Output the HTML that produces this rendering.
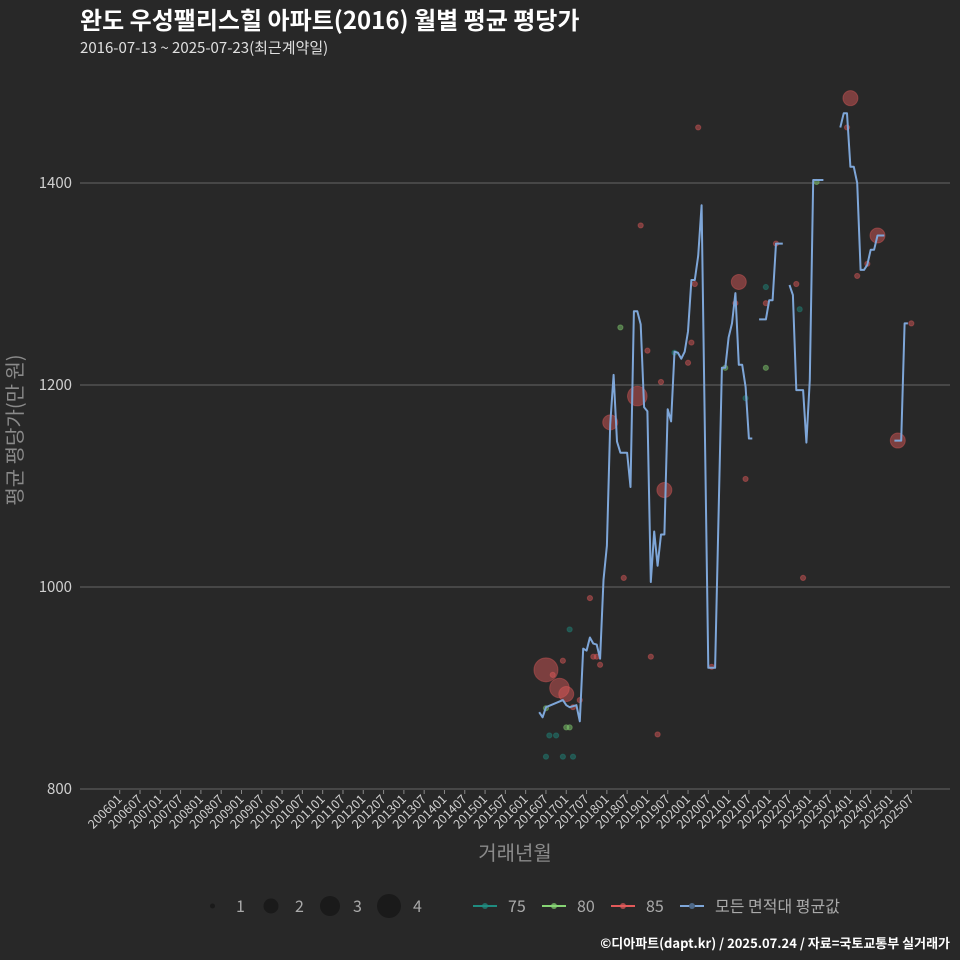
<!DOCTYPE html>
<html><head><meta charset="utf-8">
<style>
html,body{margin:0;padding:0;background:#282828;}
svg{display:block;font-family:"Noto Sans CJK KR","Liberation Sans",sans-serif;}
</style></head>
<body>
<svg id="chart" width="960" height="960" viewBox="0 0 960 960" xmlns="http://www.w3.org/2000/svg">
<rect x="0" y="0" width="960" height="960" fill="#282828"/>
<text x="80" y="29" fill="#ffffff" font-size="24" font-weight="bold">완도 우성팰리스힐 아파트(2016) 월별 평균 평당가</text>
<text x="80" y="53" fill="#e0e0e0" font-size="15">2016-07-13 ~ 2025-07-23(최근계약일)</text>
<g id="grid"></g>
<g id="yticks"></g>
<g id="xticks"></g>
<g id="points"></g>
<g id="line"></g>
<text x="22" y="430" fill="#8a8a8a" font-size="20" text-anchor="middle" transform="rotate(-90 22 430)">평균 평당가(만 원)</text>
<text x="515" y="860" fill="#8a8a8a" font-size="20" text-anchor="middle">거래년월</text>
<g font-size="16" fill="#aaaaaa">
  <g><circle cx="212.5" cy="906" r="2.5" fill="#1a1a1a"/><text x="236" y="912">1</text></g>
  <g><circle cx="271" cy="906" r="7.5" fill="#1a1a1a"/><text x="295" y="912">2</text></g>
  <g><circle cx="330" cy="906" r="10" fill="#1a1a1a"/><text x="353" y="912">3</text></g>
  <g><circle cx="389" cy="906" r="12" fill="#1a1a1a"/><text x="413" y="912">4</text></g>
  <g><line x1="473" y1="906" x2="497" y2="906" stroke="#1f8c80" stroke-width="2"/><circle cx="485" cy="906" r="3" fill="#1f8c80" opacity="0.7"/><text x="508" y="912">75</text></g>
  <g><line x1="542" y1="906" x2="566" y2="906" stroke="#86d474" stroke-width="2"/><circle cx="554" cy="906" r="3" fill="#86d474" opacity="0.7"/><text x="577" y="912">80</text></g>
  <g><line x1="611" y1="906" x2="635" y2="906" stroke="#e35a5a" stroke-width="2"/><circle cx="623" cy="906" r="3" fill="#e35a5a" opacity="0.7"/><text x="646" y="912">85</text></g>
  <g><line x1="680" y1="906" x2="704" y2="906" stroke="#7ea6d8" stroke-width="2"/><circle cx="692" cy="906" r="3" fill="#4f6a8a"/><text x="715" y="912">모든 면적대 평균값</text></g>
</g>
<text x="950" y="948" fill="#ffffff" font-size="13" font-weight="bold" text-anchor="end">©디아파트(dapt.kr) / 2025.07.24 / 자료=국토교통부 실거래가</text>
</svg>
<script>
const yTicks = [800, 1000, 1200, 1400];
const xTickLabels = [];
for (let yr = 2006; yr <= 2025; yr++) { xTickLabels.push(yr + '01'); xTickLabels.push(yr + '07'); }

const lineMonths = ['201605','201606','201607','201612','201701','201702','201704','201705','201706','201707','201708','201709','201710','201711','201712','201801','201802','201803','201804','201805','201807','201808','201809','201810','201811','201812','201901','201902','201903','201904','201905','201906','201907','201908','201909','201910','201911','201912','202001','202002','202003','202004','202005','202007','202008','202009','202011','202012','202101','202102','202103','202104','202105','202106','202107','202108',null,'202110','202112','202201','202202','202203','202205',null,'202207','202208','202209','202210','202211','202212','202301','202302','202305',null,'202310','202311','202312','202401','202402','202403','202404','202405','202406','202407','202408','202409','202411',null,'202502','202504','202505','202506'];
const lineValues = [876,871,881,888,883,881,883,867,939,937,950,944,943,929,1007,1041,1161,1210,1144,1133,1133,1099,1273,1273,1260,1178,1174,1005,1055,1021,1052,1052,1176,1164,1233,1232,1226,1233,1253,1304,1304,1328,1378,920,920,920,1217,1217,1247,1261,1291,1220,1220,1198,1147,1147,null,1265,1265,1284,1284,1340,1340,null,1299,1289,1195,1195,1195,1143,1205,1403,1403,null,1455,1469,1469,1416,1416,1400,1314,1314,1319,1334,1334,1348,1348,null,1145,1145,1261,1261];

const ptMonths = ['201607','201609','201612','201611','201701','201703','201705','201607','201701','201702','201702','201708','201709','201710','201711','201802','201806','201805','201810','201811','201901','201905','201902','201906','201909','202001','202002','202003','201607','201612','201703','201608','201610','201904','202008','202004','202104','202103','202012','202106','202106','202112','202112','202112','202203','202209','202210','202211','202401','202312','202303','202409','202406','202403','202507','202503'];
const ptValues = [918,913,927,900,894,881,888,880,861,861,958,989,931,931,923,1163,1009,1257,1189,1358,1234,1203,931,1096,1232,1222,1242,1300,832,832,832,853,853,854,921,1455,1302,1281,1217,1187,1107,1297,1281,1217,1340,1300,1275,1009,1484,1455,1401,1348,1320,1308,1261,1145];
const ptCounts = [4,1,1,3,2,1,1,1,1,1,1,1,1,1,1,2,1,1,3,1,1,1,1,2,1,1,1,1,1,1,1,1,1,1,1,1,2,1,1,1,1,1,1,1,1,1,1,1,2,1,1,2,1,1,1,2];
const ptAreas = ['85','85','85','85','85','85','85','80','80','80','75','85','85','85','85','85','85','80','85','85','85','85','85','85','75','85','85','85','75','75','75','75','75','85','85','85','85','85','80','75','85','75','85','80','85','85','75','85','85','85','80','85','85','85','85','85'];

const NS = 'http://www.w3.org/2000/svg';
function monthIndex(s){ return (parseInt(s.slice(0,4))-2006)*12 + parseInt(s.slice(4,6))-1; }
function xScale(s){ return 119.7 + monthIndex(s)*3.383; }
function yScale(v){ return 789 - (v-800)*1.01; }
function rScale(c){ return [0,2.6,7.5,9.8,12][c]; }
const colors = {'75':'#1f8c80','80':'#86d474','85':'#e35a5a'};

const grid = document.getElementById('grid');
const yt = document.getElementById('yticks');
yTicks.forEach(v => {
  const l = document.createElementNS(NS,'line');
  
  
  l.setAttribute('x1', 80); l.setAttribute('x2', 950);
  l.setAttribute('y1', yScale(v)); l.setAttribute('y2', yScale(v));
  l.setAttribute('stroke', '#666666'); l.setAttribute('stroke-width', 1);
  grid.appendChild(l);
  const t = document.createElementNS(NS,'text');
  
  
  t.setAttribute('x', 72); t.setAttribute('y', yScale(v)+5);
  t.setAttribute('text-anchor','end'); t.setAttribute('fill','#cfcfcf'); t.setAttribute('font-size','15');
  t.textContent = v;
  yt.appendChild(t);
});

const xt = document.getElementById('xticks');
xTickLabels.forEach(lab => {
  const x = xScale(lab);
  const tk = document.createElementNS(NS,'line');
  
  
  tk.setAttribute('x1', x); tk.setAttribute('x2', x); tk.setAttribute('y1', 790); tk.setAttribute('y2', 794);
  tk.setAttribute('stroke', '#888');
  xt.appendChild(tk);
  const t = document.createElementNS(NS,'text');
  
  
  t.setAttribute('x', x+3); t.setAttribute('y', 800);
  t.setAttribute('text-anchor','end'); t.setAttribute('fill','#cfcfcf'); t.setAttribute('font-size','12.5');
  t.setAttribute('transform', 'rotate(-45 ' + (x+3) + ' 800)');
  t.textContent = lab;
  xt.appendChild(t);
});

const pts = document.getElementById('points');
ptMonths.forEach((m, i) => {
  const c = document.createElementNS(NS,'circle');
  
  
  c.setAttribute('cx', xScale(m)); c.setAttribute('cy', yScale(ptValues[i]));
  c.setAttribute('r', rScale(ptCounts[i]));
  c.setAttribute('fill', colors[ptAreas[i]]); c.setAttribute('fill-opacity', 0.45);
  c.setAttribute('stroke', colors[ptAreas[i]]); c.setAttribute('stroke-opacity', 0.4);
  pts.appendChild(c);
});

const lg = document.getElementById('line');
let seg = [];
function flush(){
  if (seg.length > 1) {
    const p = document.createElementNS(NS,'polyline');
    
    
    p.setAttribute('points', seg.join(' '));
    p.setAttribute('fill','none'); p.setAttribute('stroke','#7ea6d8'); p.setAttribute('stroke-width', 2);
    p.setAttribute('stroke-linejoin','round');
    lg.appendChild(p);
  }
  seg = [];
}
lineMonths.forEach((m, i) => {
  if (m === null || lineValues[i] === null) { flush(); return; }
  seg.push(xScale(m).toFixed(1) + ',' + yScale(lineValues[i]).toFixed(1));
});
flush();
</script>
</body></html>
